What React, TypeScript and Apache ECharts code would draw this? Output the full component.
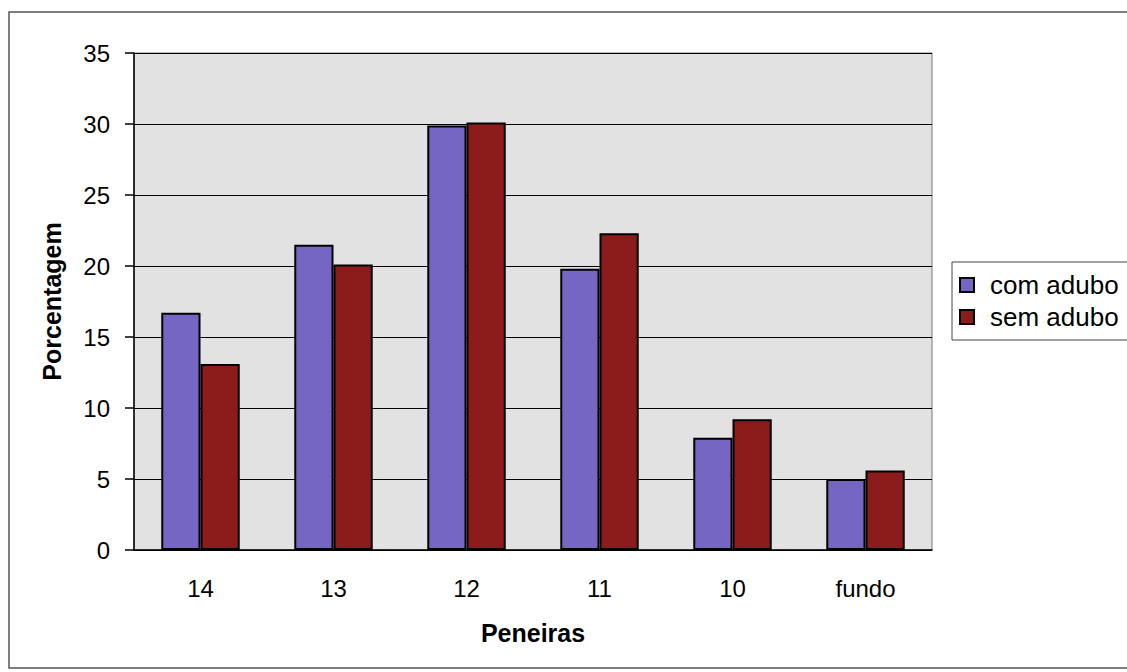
import React, { useEffect, useRef } from "react";
import * as echarts from "echarts";

const categories = ["14", "13", "12", "11", "10", "fundo"];
const comAdubo = [16.7, 21.5, 29.9, 19.8, 7.9, 5.0];
const semAdubo = [13.1, 20.1, 30.1, 22.3, 9.2, 5.6];
const seriesNames = ["com adubo", "sem adubo"];

const FONT = "Liberation Sans, Arial, sans-serif";

export default function App() {
  const ref = useRef<HTMLDivElement>(null);
  useEffect(() => {
    if (!ref.current) return;
    const chart = echarts.init(ref.current, undefined, { renderer: "svg" });
    chart.setOption({
      animation: false,
      backgroundColor: "#ffffff",
      textStyle: { fontFamily: FONT },
      graphic: [
        {
          type: "rect",
          shape: { x: 9, y: 12, width: 1140, height: 656 },
          style: { fill: "none", stroke: "#555", lineWidth: 1.5 },
          silent: true,
          z: -1,
        },
      ],
      legend: {
        left: 952,
        top: 262,
        orient: "vertical",
        icon: "rect",
        itemWidth: 14,
        itemHeight: 14,
        itemGap: 6,
        padding: [10, 12, 10, 7],
        borderColor: "#444",
        borderWidth: 1,
        data: seriesNames,
        textStyle: { fontSize: 26, color: "#000", fontFamily: FONT, padding: [0, 0, 0, 11] },
        itemStyle: { borderColor: "#000", borderWidth: 2 },
      },
      grid: {
        left: 134,
        right: 195,
        top: 53,
        bottom: 122,
        show: true,
        backgroundColor: "#e2e2e2",
        borderColor: "#777",
        borderWidth: 1,
      },
      xAxis: {
        type: "category",
        data: categories,
        name: "Peneiras",
        nameLocation: "middle",
        nameGap: 70,
        nameTextStyle: { fontSize: 25, fontWeight: "bold", color: "#000", fontFamily: FONT },
        axisLine: { lineStyle: { color: "#000", width: 1.5 } },
        axisTick: { length: 8, lineStyle: { color: "#000", width: 1.5 } },
        axisLabel: { fontSize: 24, color: "#000", margin: 26, fontFamily: FONT },
      },
      yAxis: {
        type: "value",
        min: 0,
        max: 35,
        interval: 5,
        name: "Porcentagem",
        nameLocation: "middle",
        nameGap: 70,
        nameRotate: 90,
        nameTextStyle: { fontSize: 25, fontWeight: "bold", color: "#000", fontFamily: FONT },
        axisLine: { show: true, lineStyle: { color: "#000", width: 1.5 } },
        axisTick: { show: true, length: 9, lineStyle: { color: "#000", width: 1.5 } },
        axisLabel: { fontSize: 24, color: "#000", margin: 24, fontFamily: FONT },
        splitLine: { lineStyle: { color: "#000", width: 1 } },
      },
      series: [
        {
          name: seriesNames[0],
          type: "bar",
          data: comAdubo,
          barGap: "0%",
          barCategoryGap: "41%",
          itemStyle: { color: "#7566c4", borderColor: "#000", borderWidth: 2 },
        },
        {
          name: seriesNames[1],
          type: "bar",
          data: semAdubo,
          itemStyle: { color: "#8c1c1c", borderColor: "#000", borderWidth: 2 },
        },
      ],
    });
    return () => chart.dispose();
  }, []);
  return (
    <div
      ref={ref}
      style={{ position: "fixed", left: 0, top: 0, width: 1127, height: 672 }}
    />
  );
}
